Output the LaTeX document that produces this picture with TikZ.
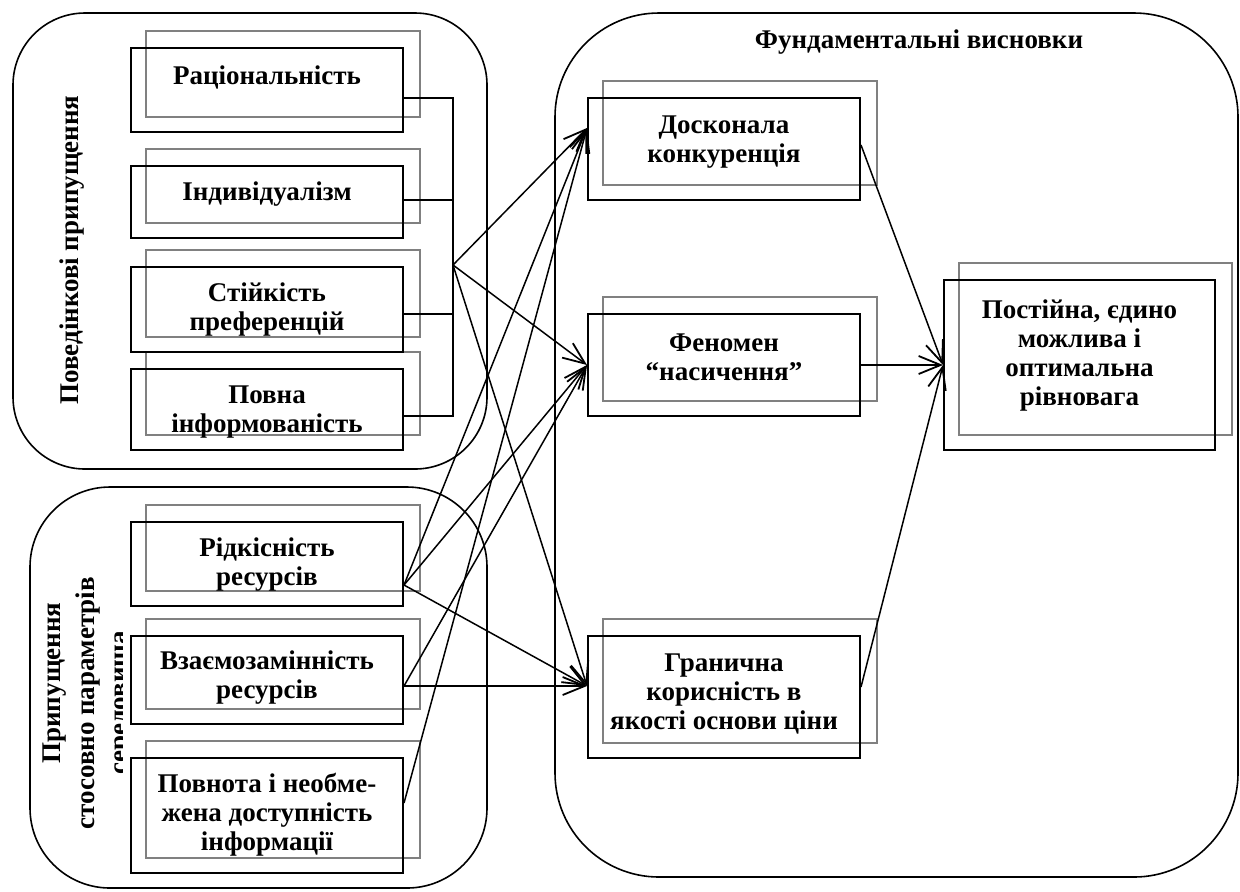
\documentclass[tikz,border=0pt]{standalone}
\usepackage{fontspec}
\setmainfont{Liberation Serif}
\usetikzlibrary{arrows.meta,backgrounds}
\definecolor{shgray}{RGB}{128,128,128}
\begin{document}
\begin{tikzpicture}[x=0.5pt,y=-0.5pt,
  box/.style={draw,line width=1pt,minimum width=136pt,inner sep=0pt},
  txt/.style={font=\bfseries\fontsize{13.5}{14.5}\selectfont,align=center,inner sep=0pt},
  shbox/.style={draw=shgray,line width=1pt},
  cont/.style={draw,line width=0.8pt},
  link/.style={line width=0.75pt},
  arr/.style={line width=0.75pt,-{Straight Barb[length=11pt,width=9pt,line width=0.9pt]}}]
\useasboundingbox (0,0) rectangle (1240,891);

% containers
\draw[cont,rounded corners=36pt] (13,13) rectangle (487,469);
\draw[cont,rounded corners=40pt] (30,487) rectangle (487,888);
\draw[cont,rounded corners=52pt] (555,13) rectangle (1238,877);

% boxes
\node[box,minimum height=42pt] (rat) at (267,90) {};
\node[box,minimum height=36pt] (ind) at (267,202) {};
\node[box,minimum height=42.5pt] (stiy) at (267,309.5) {};
\node[box,minimum height=40.5pt] (povna) at (267,409.5) {};
\node[box,minimum height=42pt] (ridk) at (267,564) {};
\node[box,minimum height=44pt] (vzaye) at (267,680) {};
\node[box,minimum height=57.5pt] (povnota) at (267,815.5) {};
\node[box,minimum height=51pt] (dosk) at (724,149) {};
\node[box,minimum height=51pt] (fen) at (724,365) {};
\node[box,minimum height=61pt] (gran) at (724,697) {};
\node[box,minimum width=135.5pt,minimum height=85pt] (post) at (1079.5,365) {};

% shadow frames
\begin{scope}[on background layer]
\foreach \b in {rat,ind,stiy,povna,ridk,vzaye,povnota,dosk,fen,gran,post}
  \draw[shbox] ([xshift=8pt,yshift=8pt]\b.south west) rectangle ([xshift=8pt,yshift=8pt]\b.north east);
\end{scope}

% texts
\node[txt] (ratT) at (267,77) {Раціональність};
\node[txt] (indT) at (267,194) {Індивідуалізм};
\node[txt] (stiyT) at (267,309) {Стійкість\\преференцій};
\node[txt] (povnaT) at (267,412) {Повна\\інформованість};
\node[txt] (ridkT) at (267,565) {Рідкісність\\ресурсів};
\node[txt] (vzayeT) at (267,678) {Взаємозамінність\\ресурсів};
\node[txt] (povnotaT) at (267,815) {Повнота і необме-\\жена доступність\\інформації};
\node[txt] (doskT) at (724,142) {Досконала\\конкуренція};
\node[txt] (fenT) at (724,357) {Феномен\\“насичення”};
\node[txt] (granT) at (724,694) {Гранична\\корисність в\\якості основи ціни};
\node[txt] (postT) at (1079.5,355) {Постійна, єдино\\можлива і\\оптимальна\\рівновага};
\node[txt] (title) at (919,42) {Фундаментальні висновки};

% side labels
\node[txt,rotate=90] (behav) at (72,250) {Поведінкові припущення};
\node[txt,rotate=90] (env1) at (55,683) {Припущення};
\node[txt,rotate=90] (env2) at (88,703) {стосовно параметрів};
\begin{scope}
\clip (100,600) rectangle (122,800);
\node[txt,rotate=90] (env3) at (124,703) {середовища};
\end{scope}

% behavioural bus
\coordinate (bus) at (453,265);
\draw[link] ([yshift=-4pt]rat.east) -| (bus);
\draw[link] ([yshift=1pt]ind.east) -| (bus);
\draw[link] ([yshift=-2.25pt]stiy.east) -| (bus);
\draw[link] ([yshift=-3.25pt]povna.east) -| (bus);

% arrow targets and sources
\coordinate (dIn) at ([yshift=10.5pt]dosk.west);
\coordinate (gIn) at ([yshift=5.5pt]gran.west);
\coordinate (rOut) at ([yshift=-10.5pt]ridk.east);
\coordinate (vOut) at ([yshift=-3pt]vzaye.east);
\coordinate (pOut) at ([yshift=6.25pt]povnota.east);

\draw[arr] (bus) -- (dIn);
\draw[arr] (bus) -- (fen.west);
\draw[arr] (bus) -- (gIn);
\draw[arr] (rOut) -- (dIn);
\draw[arr] (rOut) -- (fen.west);
\draw[arr] (rOut) -- (gIn);
\draw[arr] (vOut) -- (fen.west);
\draw[arr] (vOut) -- (gIn);
\draw[arr] (pOut) -- (dIn);

\draw[arr] ([yshift=2pt]dosk.east) -- (post.west);
\draw[arr] (fen.east) -- (post.west);
\draw[arr] ([yshift=5pt]gran.east) -- (post.west);
\end{tikzpicture}
\end{document}
